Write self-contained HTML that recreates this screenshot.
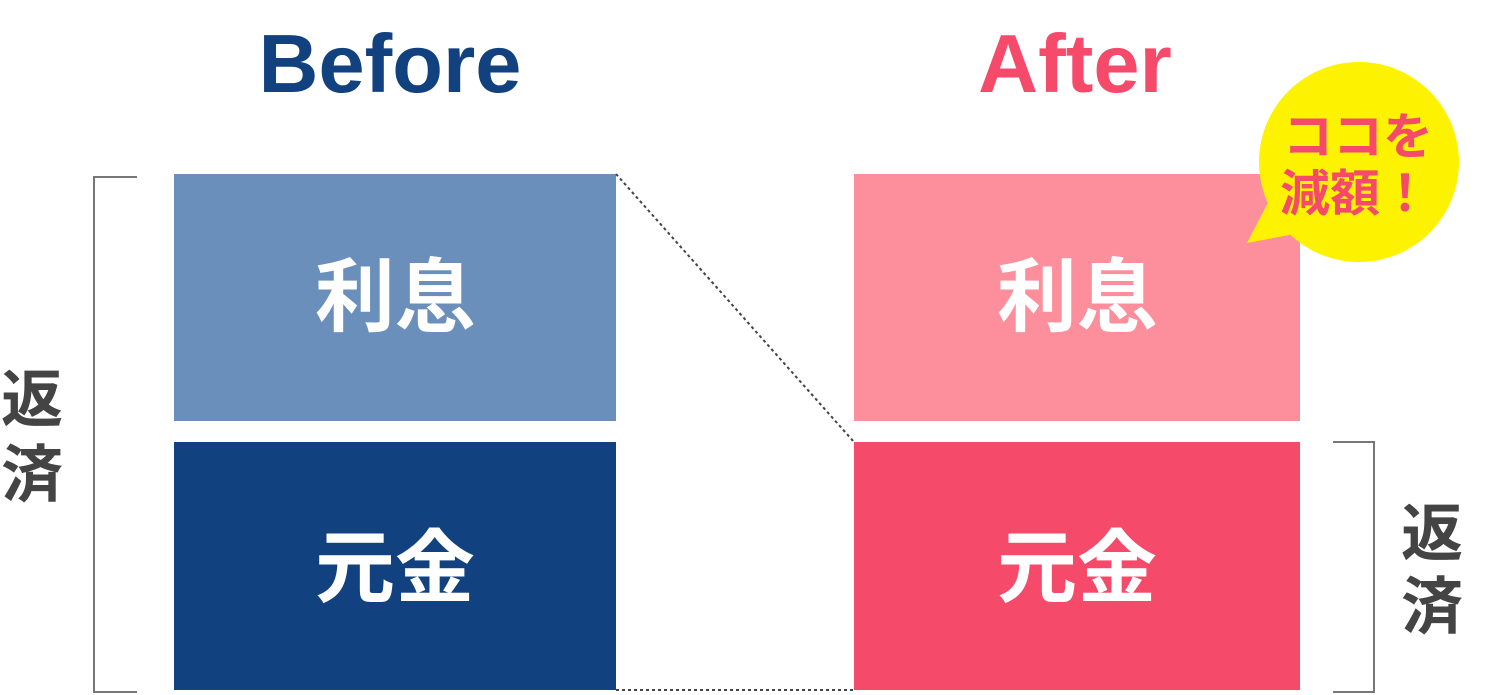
<!DOCTYPE html>
<html><head><meta charset="utf-8"><style>
html,body{margin:0;padding:0;background:#fff;}
svg{display:block;}
text{font-family:"Liberation Sans","Noto Sans CJK JP",sans-serif;font-weight:bold;}
</style></head><body>
<svg width="1500" height="695" viewBox="0 0 1500 695" xmlns="http://www.w3.org/2000/svg">
<text x="390" y="92" font-size="83" fill="#11427f" text-anchor="middle">Before</text>
<text x="1075" y="92" font-size="83" fill="#f64a6b" text-anchor="middle">After</text>
<rect x="174" y="174" width="442" height="247" fill="#6a8fba"/>
<rect x="174" y="442" width="442" height="248" fill="#11427f"/>
<rect x="854" y="174" width="446" height="247" fill="#fd8f9c"/>
<rect x="854" y="442" width="446" height="248" fill="#f64a6b"/>
<g font-size="80" fill="#fff" text-anchor="middle" style="font-family:'Noto Sans CJK JP',sans-serif;font-weight:900">
<text x="395" y="325">利息</text>
<text x="395" y="596">元金</text>
<text x="1077" y="325">利息</text>
<text x="1077" y="596">元金</text>
</g>
<line x1="616" y1="174" x2="854" y2="442" stroke="#444" stroke-width="2" stroke-dasharray="3,3"/>
<line x1="616" y1="690" x2="854" y2="690" stroke="#444" stroke-width="2" stroke-dasharray="3,3"/>
<polyline points="137,177 94,177 94,692 137,692" fill="none" stroke="#777" stroke-width="2"/>
<polyline points="1333,442 1374,442 1374,692 1333,692" fill="none" stroke="#777" stroke-width="2"/>
<g font-size="62" fill="#444" text-anchor="middle" style="font-family:'Noto Sans CJK JP',sans-serif;font-weight:900">
<text x="32" y="421">返</text>
<text x="32" y="496">済</text>
<text x="1432" y="555">返</text>
<text x="1432" y="628">済</text>
</g>
<circle cx="1359" cy="162" r="100" fill="#fdf200"/>
<polygon points="1272,195 1247,243 1300,233" fill="#fdf200"/>
<g font-size="50" fill="#f64a6b" text-anchor="middle" style="font-family:'Noto Sans CJK JP',sans-serif;font-weight:900">
<text x="1358" y="154">ココを</text>
<text x="1355" y="211">減額！</text>
</g>
</svg>
</body></html>
